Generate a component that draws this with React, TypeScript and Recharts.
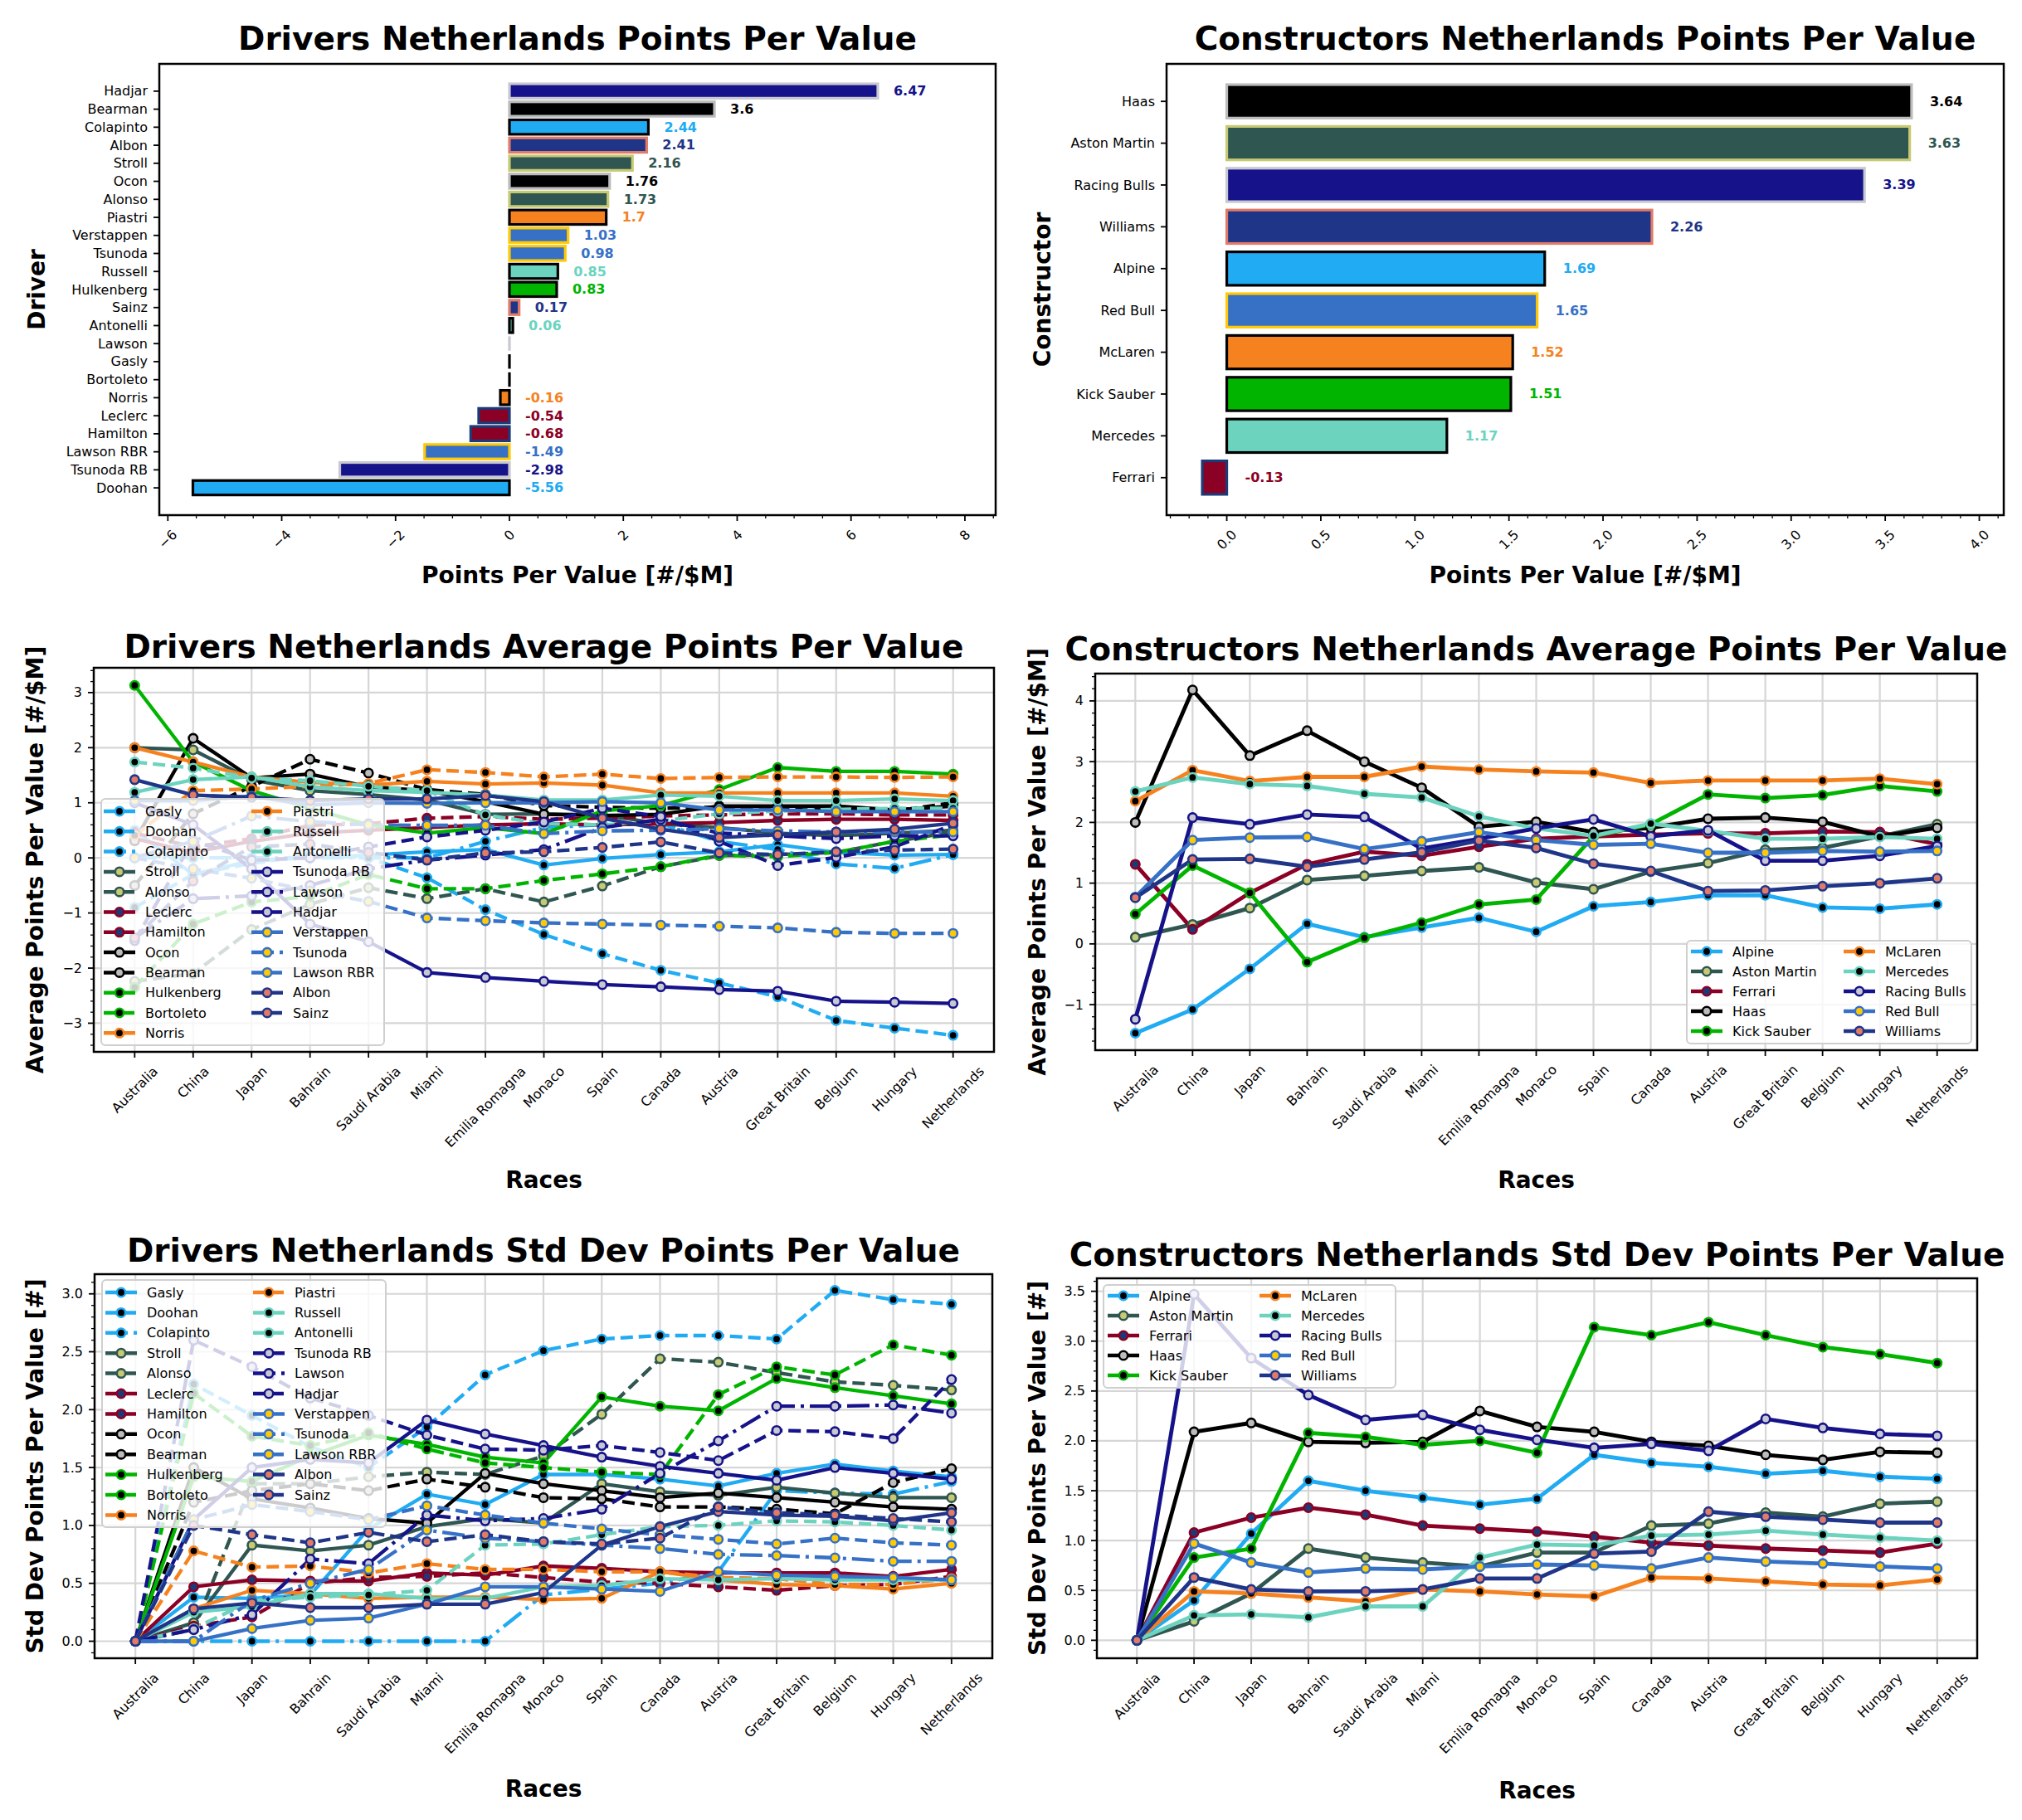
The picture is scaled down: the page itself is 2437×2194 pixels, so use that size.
import React from 'react';
import { BarChart, Bar, LineChart, Line, XAxis, YAxis, CartesianGrid } from 'recharts';

const W = 2437;
const H = 2194;
const FONT = '"DejaVu Sans", Verdana, sans-serif';
const MINUS = '\u2212';

const races = ['Australia', 'China', 'Japan', 'Bahrain', 'Saudi Arabia', 'Miami', 'Emilia Romagna', 'Monaco', 'Spain', 'Canada', 'Austria', 'Great Britain', 'Belgium', 'Hungary', 'Netherlands'];

// points per value at the Netherlands round
const driverBarNames = ['Hadjar', 'Bearman', 'Colapinto', 'Albon', 'Stroll', 'Ocon', 'Alonso', 'Piastri', 'Verstappen', 'Tsunoda', 'Russell', 'Hulkenberg', 'Sainz', 'Antonelli', 'Lawson', 'Gasly', 'Bortoleto', 'Norris', 'Leclerc', 'Hamilton', 'Lawson RBR', 'Tsunoda RB', 'Doohan'];
const driverBarTeams = ['Racing Bulls', 'Haas', 'Alpine', 'Williams', 'Aston Martin', 'Haas', 'Aston Martin', 'McLaren', 'Red Bull', 'Red Bull', 'Mercedes', 'Kick Sauber', 'Williams', 'Mercedes', 'Racing Bulls', 'Alpine', 'Kick Sauber', 'McLaren', 'Ferrari', 'Ferrari', 'Red Bull', 'Racing Bulls', 'Alpine'];
const driverBarValues = [6.47, 3.6, 2.44, 2.41, 2.16, 1.76, 1.73, 1.7, 1.03, 0.98, 0.85, 0.83, 0.17, 0.06, 0, 0, 0, -0.16, -0.54, -0.68, -1.49, -2.98, -5.56];

const constructorBarNames = ['Haas', 'Aston Martin', 'Racing Bulls', 'Williams', 'Alpine', 'Red Bull', 'McLaren', 'Kick Sauber', 'Mercedes', 'Ferrari'];
const constructorBarValues = [3.64, 3.63, 3.39, 2.26, 1.69, 1.65, 1.52, 1.51, 1.17, -0.13];

// legend order
const drivers = ['Gasly', 'Doohan', 'Colapinto', 'Stroll', 'Alonso', 'Leclerc', 'Hamilton', 'Ocon', 'Bearman', 'Hulkenberg', 'Bortoleto', 'Norris', 'Piastri', 'Russell', 'Antonelli', 'Tsunoda RB', 'Lawson', 'Hadjar', 'Verstappen', 'Tsunoda', 'Lawson RBR', 'Albon', 'Sainz'];
const driverTeams = ['Alpine', 'Alpine', 'Alpine', 'Aston Martin', 'Aston Martin', 'Ferrari', 'Ferrari', 'Haas', 'Haas', 'Kick Sauber', 'Kick Sauber', 'McLaren', 'McLaren', 'Mercedes', 'Mercedes', 'Racing Bulls', 'Racing Bulls', 'Racing Bulls', 'Red Bull', 'Red Bull', 'Red Bull', 'Williams', 'Williams'];
const driverLines = ['-', '--', '-.', '-', '--', '-', '--', '-', '--', '-', '--', '-', '--', '-', '--', '-', '-.', '--', '-', '-.', '--', '-', '--'];
const constructors = ['Alpine', 'Aston Martin', 'Ferrari', 'Haas', 'Kick Sauber', 'McLaren', 'Mercedes', 'Racing Bulls', 'Red Bull', 'Williams'];

// average points per value, drivers
const avgGasly = [0.5, -0.3, -0.05, 0.0, 0.05, 0.11, 0.15, -0.13, -0.01, 0.06, 0.11, 0.24, 0.1, 0.05, 0.06];
const avgDoohan = [-0.9, -0.3, -0.1, 0.05, 0.0, -0.36, -0.94, -1.39, -1.74, -2.04, -2.27, -2.52, -2.95, -3.09, -3.22];
const avgColapinto = [0, 0, 0, 0, 0, 0, 0.3, 0.55, 0.6, 0.62, 0.3, 0.15, -0.11, -0.19, 0.06];
const avgStroll = [2.0, 1.96, 1.42, 1.22, 1.15, 1.05, 0.79, 0.8, 0.78, 0.62, 0.55, 0.45, 0.4, 0.45, 0.5];
const avgAlonso = [-2.24, -2.1, -1.3, -0.84, -0.54, -0.74, -0.56, -0.8, -0.51, -0.16, 0.04, 0.06, 0.1, 0.3, 0.47];
const avgLeclerc = [0.35, 0.1, 0.3, 0.45, 0.5, 0.55, 0.6, 0.62, 0.6, 0.62, 0.64, 0.68, 0.7, 0.7, 0.68];
const avgHamilton = [0.45, 0.2, 0.35, 0.59, 0.62, 0.72, 0.75, 0.7, 0.72, 0.76, 0.78, 0.8, 0.8, 0.78, 0.78];
const avgOcon = [0.31, 2.17, 1.45, 1.52, 1.29, 1.22, 1.02, 0.79, 0.77, 0.79, 0.94, 0.94, 0.94, 0.87, 0.94];
const avgBearman = [-0.5, 0.8, 1.3, 1.79, 1.54, 1.24, 1.15, 0.95, 0.92, 0.9, 0.92, 0.92, 0.88, 0.85, 1.0];
const avgHulkenberg = [3.13, 1.74, 1.22, 0.9, 0.6, 0.45, 0.55, 0.44, 0.85, 0.95, 1.24, 1.64, 1.57, 1.57, 1.52];
const avgBortoleto = [-2.35, -1.2, -0.8, -0.7, -0.3, -0.56, -0.56, -0.41, -0.29, -0.16, 0.05, 0.02, 0.1, 0.3, 0.42];
const avgNorris = [2.0, 1.74, 1.47, 1.37, 1.32, 1.39, 1.34, 1.36, 1.32, 1.18, 1.18, 1.18, 1.18, 1.18, 1.12];
const avgPiastri = [0.41, 1.22, 1.25, 1.3, 1.35, 1.6, 1.55, 1.47, 1.52, 1.44, 1.46, 1.47, 1.47, 1.46, 1.47];
const avgRussell = [1.19, 1.42, 1.47, 1.29, 1.22, 1.19, 1.14, 1.05, 1.05, 1.14, 1.12, 1.04, 1.04, 1.07, 1.04];
const avgAntonelli = [1.74, 1.63, 1.45, 1.4, 1.3, 1.22, 0.78, 0.62, 0.6, 0.67, 0.8, 0.85, 0.88, 0.9, 0.9];
const avgTsunodaRB = [1.0, 0.6, -0.2, -1.2, -1.52, -2.08, -2.17, -2.24, -2.3, -2.34, -2.39, -2.42, -2.6, -2.62, -2.64];
const avgLawson = [-1.45, -0.74, -0.69, -0.5, -0.2, -0.04, 0.05, 0.15, 0.55, 0.7, 0.45, 0.4, 0.35, 0.4, 0.4];
const avgHadjar = [-1.5, 0.31, -0.04, 0.0, 0.2, 0.38, 0.5, 0.65, 0.9, 0.75, 0.3, -0.14, 0.01, 0.2, 0.6];
const avgVerstappen = [1.04, 1.04, 1.12, 0.96, 1.0, 0.99, 1.0, 1.0, 1.02, 1.0, 0.87, 0.87, 0.84, 0.84, 0.84];
const avgTsunoda = [0.01, 0.3, 0.76, 0.66, 0.6, 0.59, 0.59, 0.44, 0.49, 0.5, 0.53, 0.49, 0.47, 0.47, 0.47];
const avgLawsonRBR = [0.0, -0.2, -0.37, -0.6, -0.79, -1.09, -1.14, -1.18, -1.2, -1.22, -1.24, -1.27, -1.35, -1.37, -1.37];
const avgAlbon = [1.42, 1.14, 1.1, 1.04, 1.07, 1.07, 1.13, 1.02, 0.72, 0.52, 0.37, 0.42, 0.47, 0.52, 0.63];
const avgSainz = [-1.45, -0.42, 0.2, 0.25, 0.1, -0.04, 0.09, 0.11, 0.19, 0.29, 0.09, 0.06, 0.11, 0.14, 0.16];

// std dev of points per value, drivers
const sdGasly = [0, 0.38, 0.37, 0.4, 0.97, 1.27, 1.18, 1.44, 1.44, 1.4, 1.34, 1.45, 1.53, 1.47, 1.42];
const sdDoohan = [0, 2.22, 1.95, 1.68, 1.5, 1.85, 2.3, 2.51, 2.61, 2.64, 2.64, 2.61, 3.03, 2.95, 2.91];
const sdColapinto = [0, 0, 0, 0, 0, 0, 0, 0.4, 0.45, 0.5, 0.6, 1.3, 1.28, 1.27, 1.38];
const sdStroll = [0, 0.16, 0.83, 0.78, 0.83, 0.99, 1.06, 1.02, 1.36, 1.29, 1.26, 1.33, 1.28, 1.24, 1.24];
const sdAlonso = [0, 0.1, 1.36, 1.36, 1.42, 1.46, 1.44, 1.6, 1.96, 2.44, 2.41, 2.32, 2.24, 2.21, 2.17];
const sdLeclerc = [0, 0.47, 0.53, 0.52, 0.52, 0.59, 0.57, 0.65, 0.63, 0.6, 0.59, 0.59, 0.59, 0.56, 0.62];
const sdHamilton = [0, 0.13, 0.21, 0.5, 0.55, 0.56, 0.59, 0.55, 0.51, 0.5, 0.47, 0.44, 0.48, 0.49, 0.56];
const sdOcon = [0, 1.5, 1.23, 1.15, 1.06, 1.02, 1.45, 1.36, 1.3, 1.24, 1.28, 1.24, 1.2, 1.16, 1.14];
const sdBearman = [0, 1.2, 1.3, 1.36, 1.3, 1.4, 1.33, 1.24, 1.23, 1.16, 1.16, 1.14, 1.1, 1.37, 1.49];
const sdHulkenberg = [0, 1.42, 1.38, 1.6, 1.78, 1.7, 1.59, 1.54, 2.11, 2.03, 1.99, 2.27, 2.19, 2.12, 2.05];
const sdBortoleto = [0, 2.14, 1.77, 1.69, 1.8, 1.66, 1.54, 1.5, 1.46, 1.44, 2.13, 2.37, 2.3, 2.56, 2.47];
const sdNorris = [0, 0.28, 0.44, 0.41, 0.37, 0.38, 0.38, 0.36, 0.37, 0.6, 0.53, 0.49, 0.48, 0.45, 0.5];
const sdPiastri = [0, 0.78, 0.64, 0.65, 0.59, 0.67, 0.62, 0.62, 0.6, 0.6, 0.55, 0.54, 0.49, 0.49, 0.54];
const sdRussell = [0, 0.25, 0.3, 0.41, 0.41, 0.37, 0.37, 0.47, 0.48, 0.54, 0.53, 0.54, 0.53, 0.53, 0.53];
const sdAntonelli = [0, 0.11, 0.35, 0.38, 0.4, 0.44, 0.83, 0.84, 0.92, 0.99, 1.0, 1.04, 1.03, 1.0, 0.96];
const sdTsunodaRB = [0, 1.05, 1.5, 1.57, 1.54, 1.91, 1.79, 1.69, 1.59, 1.51, 1.45, 1.39, 1.5, 1.45, 1.4];
const sdLawson = [0, 0.1, 0.23, 0.71, 0.67, 1.09, 1.04, 1.06, 1.14, 1.45, 1.73, 2.03, 2.03, 2.04, 1.97];
const sdHadjar = [0, 2.6, 2.37, 2.1, 1.95, 1.78, 1.66, 1.65, 1.69, 1.63, 1.56, 1.82, 1.81, 1.75, 2.26];
const sdVerstappen = [0, 0.0, 0.11, 0.18, 0.2, 0.32, 0.47, 0.47, 0.45, 0.43, 0.6, 0.57, 0.56, 0.55, 0.53];
const sdTsunoda = [0, 0.0, 0.35, 0.5, 0.62, 0.96, 0.89, 0.86, 0.83, 0.8, 0.75, 0.74, 0.72, 0.69, 0.69];
const sdLawsonRBR = [0, 1.05, 1.18, 1.12, 1.05, 1.17, 1.09, 1.02, 0.97, 0.92, 0.88, 0.84, 0.89, 0.85, 0.83];
const sdAlbon = [0, 0.28, 0.33, 0.29, 0.29, 0.32, 0.32, 0.42, 0.83, 0.99, 1.12, 1.09, 1.08, 1.04, 1.11];
const sdSainz = [0, 1.0, 0.92, 0.85, 0.94, 0.86, 0.92, 0.86, 0.84, 0.89, 1.16, 1.11, 1.09, 1.06, 1.03];

// average points per value, constructors
const cAvgAlpine = [-1.47, -1.08, -0.41, 0.33, 0.11, 0.27, 0.43, 0.2, 0.62, 0.69, 0.8, 0.8, 0.6, 0.58, 0.65];
const cAvgAston = [0.11, 0.32, 0.59, 1.05, 1.12, 1.2, 1.26, 1.01, 0.9, 1.19, 1.33, 1.55, 1.58, 1.77, 1.97];
const cAvgFerrari = [1.31, 0.24, 0.84, 1.31, 1.52, 1.45, 1.6, 1.73, 1.77, 1.8, 1.82, 1.82, 1.85, 1.84, 1.64];
const cAvgHaas = [2.0, 4.18, 3.1, 3.51, 3.0, 2.57, 1.93, 2.01, 1.84, 1.91, 2.06, 2.08, 2.01, 1.77, 1.91];
const cAvgSauber = [0.49, 1.29, 0.84, -0.3, 0.1, 0.35, 0.65, 0.73, 1.77, 1.97, 2.46, 2.4, 2.45, 2.6, 2.51];
const cAvgMcLaren = [2.35, 2.86, 2.68, 2.75, 2.75, 2.92, 2.87, 2.84, 2.82, 2.65, 2.69, 2.69, 2.69, 2.72, 2.63];
const cAvgMercedes = [2.51, 2.74, 2.63, 2.6, 2.47, 2.41, 2.1, 1.9, 1.78, 1.98, 1.86, 1.73, 1.73, 1.76, 1.73];
const cAvgRacingBulls = [-1.24, 2.08, 1.97, 2.13, 2.09, 1.57, 1.73, 1.9, 2.05, 1.77, 1.87, 1.37, 1.37, 1.45, 1.61];
const cAvgRedBull = [0.77, 1.71, 1.75, 1.76, 1.56, 1.69, 1.84, 1.71, 1.63, 1.65, 1.5, 1.5, 1.53, 1.52, 1.53];
const cAvgWilliams = [0.76, 1.39, 1.4, 1.27, 1.39, 1.51, 1.7, 1.58, 1.32, 1.2, 0.87, 0.88, 0.95, 1.0, 1.08];

// std dev of points per value, constructors
const cSdAlpine = [0, 0.4, 1.07, 1.6, 1.5, 1.43, 1.36, 1.42, 1.86, 1.78, 1.74, 1.67, 1.7, 1.64, 1.62];
const cSdAston = [0, 0.19, 0.47, 0.92, 0.83, 0.78, 0.74, 0.88, 0.88, 1.15, 1.17, 1.28, 1.24, 1.37, 1.39];
const cSdFerrari = [0, 1.08, 1.23, 1.33, 1.26, 1.15, 1.12, 1.09, 1.04, 0.98, 0.95, 0.92, 0.9, 0.88, 0.97];
const cSdHaas = [0, 2.09, 2.18, 1.99, 1.98, 1.99, 2.3, 2.14, 2.09, 1.99, 1.95, 1.86, 1.81, 1.89, 1.88];
const cSdSauber = [0, 0.83, 0.92, 2.08, 2.04, 1.96, 2.0, 1.88, 3.14, 3.06, 3.19, 3.06, 2.94, 2.87, 2.78];
const cSdMcLaren = [0, 0.49, 0.47, 0.43, 0.39, 0.51, 0.49, 0.46, 0.44, 0.63, 0.62, 0.59, 0.56, 0.55, 0.61];
const cSdMercedes = [0, 0.25, 0.26, 0.23, 0.34, 0.34, 0.83, 0.96, 0.95, 1.05, 1.06, 1.1, 1.06, 1.03, 1.0];
const cSdRacingBulls = [0, 3.47, 2.83, 2.46, 2.21, 2.26, 2.11, 2.01, 1.93, 1.97, 1.9, 2.22, 2.13, 2.07, 2.05];
const cSdRedBull = [0, 0.97, 0.78, 0.68, 0.72, 0.71, 0.74, 0.76, 0.75, 0.72, 0.83, 0.79, 0.77, 0.74, 0.72];
const cSdWilliams = [0, 0.63, 0.51, 0.49, 0.49, 0.51, 0.62, 0.62, 0.87, 0.89, 1.29, 1.24, 1.21, 1.18, 1.18];

const driverAvg = [avgGasly, avgDoohan, avgColapinto, avgStroll, avgAlonso, avgLeclerc, avgHamilton, avgOcon, avgBearman, avgHulkenberg, avgBortoleto, avgNorris, avgPiastri, avgRussell, avgAntonelli, avgTsunodaRB, avgLawson, avgHadjar, avgVerstappen, avgTsunoda, avgLawsonRBR, avgAlbon, avgSainz];
const driverSd = [sdGasly, sdDoohan, sdColapinto, sdStroll, sdAlonso, sdLeclerc, sdHamilton, sdOcon, sdBearman, sdHulkenberg, sdBortoleto, sdNorris, sdPiastri, sdRussell, sdAntonelli, sdTsunodaRB, sdLawson, sdHadjar, sdVerstappen, sdTsunoda, sdLawsonRBR, sdAlbon, sdSainz];
const constructorAvg = [cAvgAlpine, cAvgAston, cAvgFerrari, cAvgHaas, cAvgSauber, cAvgMcLaren, cAvgMercedes, cAvgRacingBulls, cAvgRedBull, cAvgWilliams];
const constructorSd = [cSdAlpine, cSdAston, cSdFerrari, cSdHaas, cSdSauber, cSdMcLaren, cSdMercedes, cSdRacingBulls, cSdRedBull, cSdWilliams];

const teamStyle: Record<string, { color: string; accent: string }> = {
  'Alpine': { color: '#20abf2', accent: '#000000' },
  'Aston Martin': { color: '#2f5651', accent: '#c7c973' },
  'Ferrari': { color: '#8b0025', accent: '#1d3a78' },
  'Haas': { color: '#000000', accent: '#bcbcbc' },
  'Kick Sauber': { color: '#00b400', accent: '#000000' },
  'McLaren': { color: '#f5821f', accent: '#000000' },
  'Mercedes': { color: '#6cd3bf', accent: '#000000' },
  'Racing Bulls': { color: '#16138a', accent: '#c8c8d2' },
  'Red Bull': { color: '#3671c6', accent: '#ffc906' },
  'Williams': { color: '#1f3588', accent: '#e07b68' },
};
const dashOf: Record<string, string | undefined> = { '-': undefined, '--': '15 7', '-.': '27 7 4 7' };

type Box = { l: number; t: number; r: number; b: number };
type Series = { name: string; values: number[]; color: string; accent: string; dash?: string };

const TICK = 7;
const MINOR = 4;
const PAD = 7;
const FS = 16;

let ctx: CanvasRenderingContext2D | null = null;
function textWidth(s: string, size: number) {
  if (!ctx) ctx = document.createElement('canvas').getContext('2d');
  if (!ctx) return s.length * size * 0.6;
  ctx.font = `${size}px "DejaVu Sans"`;
  return ctx.measureText(s).width;
}

function steps(a: number, b: number, s: number) {
  const out: number[] = [];
  for (let v = a; v <= b + 1e-9; v += s) out.push(Math.round(v * 1000) / 1000);
  return out;
}

function fmtNum(v: number, dec: number) {
  const s = Math.abs(v).toFixed(dec);
  return v < -1e-9 ? MINUS + s : s;
}

const isMajor = (v: number, majors: number[]) => majors.some((m) => Math.abs(m - v) < 1e-6);

function RotatedLabel({ x, top, text }: { x: number; top: number; text: string }) {
  const L = textWidth(text, FS);
  const cy = top + ((L + FS * 1.16) * Math.SQRT1_2) / 2;
  return (
    <text x={x} y={cy} transform={`rotate(-45 ${x} ${cy})`} textAnchor="middle" dominantBaseline="central" fontSize={FS} fontFamily={FONT} fill="#000">
      {text}
    </text>
  );
}

type BarPanelProps = { names: string[]; teams: string[]; values: number[]; box: Box; inset: number; domain: [number, number]; majors: number[]; minors: number[]; dec: number; gap: number };

function BarPanel({ names, teams, values, box, inset, domain, majors, minors, dec, gap }: BarPanelProps) {
  const data = names.map((name, i) => ({ name, value: values[i] }));
  const top = box.t + inset;
  const bottom = box.b - inset;
  const band = (bottom - top) / names.length;
  const YW = 20;
  const XH = 20;
  return (
    <div style={{ position: 'absolute', left: 0, top: 0 }}>
      <BarChart width={W} height={H} data={data} layout="vertical" margin={{ top, bottom: H - bottom - XH, left: box.l - YW, right: W - box.r }}>
        <XAxis
          type="number"
          domain={domain}
          allowDataOverflow
          ticks={minors}
          interval={0}
          height={XH}
          axisLine={false}
          tickLine={false}
          tickSize={0}
          tickMargin={0}
          tick={(p: any) => {
            const v = p.payload.value;
            const major = isMajor(v, majors);
            const y0 = p.y + inset;
            return (
              <g>
                <line x1={p.x} x2={p.x} y1={y0} y2={y0 + (major ? TICK : MINOR)} stroke="#000" strokeWidth={major ? 1.8 : 1.3} />
                {major && <RotatedLabel x={p.x} top={y0 + TICK + PAD} text={fmtNum(v, dec)} />}
              </g>
            );
          }}
        />
        <YAxis
          type="category"
          dataKey="name"
          width={YW}
          interval={0}
          axisLine={false}
          tickLine={false}
          tickSize={0}
          tickMargin={0}
          tick={(p: any) => (
            <g>
              <line x1={p.x} x2={p.x - TICK} y1={p.y} y2={p.y} stroke="#000" strokeWidth={1.8} />
              <text x={p.x - TICK - PAD} y={p.y} textAnchor="end" dominantBaseline="central" fontSize={FS} fontFamily={FONT} fill="#000">
                {p.payload.value}
              </text>
            </g>
          )}
        />
        <Bar
          dataKey="value"
          barSize={band * 0.8}
          isAnimationActive={false}
          shape={(p: any) => {
            const nm = p.payload?.name ?? p.name;
            const i = names.indexOf(nm);
            const st = teamStyle[teams[i]];
            const x0 = Math.min(p.x, p.x + p.width);
            const w = Math.abs(p.width);
            const right = Math.max(p.x, p.x + p.width);
            const v = values[i];
            return (
              <g>
                {w > 0.5 ? (
                  <rect x={x0} y={p.y} width={w} height={p.height} fill={st.color} stroke={st.accent} strokeWidth={3.2} />
                ) : (
                  <line x1={x0} x2={x0} y1={p.y} y2={p.y + p.height} stroke={st.accent} strokeWidth={3.2} />
                )}
                {v !== 0 && (
                  <text x={right + gap} y={p.y + p.height / 2} dominantBaseline="central" fontSize={FS} fontWeight="bold" fontFamily={FONT} fill={st.color}>
                    {String(v)}
                  </text>
                )}
              </g>
            );
          }}
        />
      </BarChart>
    </div>
  );
}

type LinePanelProps = { series: Series[]; box: Box; domain: [number, number]; majors: number[]; minors: number[]; dec: number; lw: number };

function LinePanel({ series, box, domain, majors, minors, dec, lw }: LinePanelProps) {
  const data = races.map((race, i) => {
    const row: Record<string, number | string> = { i, race };
    series.forEach((s, k) => {
      row['s' + k] = s.values[i];
    });
    return row;
  });
  const YW = 20;
  const XH = 20;
  const toY = (v: number) => box.t + ((domain[1] - v) / (domain[1] - domain[0])) * (box.b - box.t);
  const toX = (i: number) => box.l + ((i + 0.7) / 15.4) * (box.r - box.l);
  return (
    <div style={{ position: 'absolute', left: 0, top: 0 }}>
      <LineChart width={W} height={H} data={data} margin={{ top: box.t, bottom: H - box.b - XH, left: box.l - YW, right: W - box.r }}>
        <CartesianGrid stroke="#d6d6d6" strokeWidth={2.2} horizontalPoints={majors.map(toY)} verticalPoints={races.map((_, i) => toX(i))} />
        <XAxis
          type="number"
          dataKey="i"
          domain={[-0.7, 14.7]}
          allowDataOverflow
          ticks={races.map((_, i) => i)}
          interval={0}
          height={XH}
          axisLine={false}
          tickLine={false}
          tickSize={0}
          tickMargin={0}
          tick={(p: any) => (
            <g>
              <line x1={p.x} x2={p.x} y1={p.y} y2={p.y + TICK} stroke="#000" strokeWidth={1.8} />
              <RotatedLabel x={p.x} top={p.y + TICK + PAD} text={races[p.payload.value]} />
            </g>
          )}
        />
        <YAxis
          type="number"
          domain={domain}
          allowDataOverflow
          ticks={minors}
          interval={0}
          width={YW}
          axisLine={false}
          tickLine={false}
          tickSize={0}
          tickMargin={0}
          tick={(p: any) => {
            const v = p.payload.value;
            const major = isMajor(v, majors);
            return (
              <g>
                <line x1={p.x} x2={p.x - (major ? TICK : MINOR)} y1={p.y} y2={p.y} stroke="#000" strokeWidth={major ? 1.8 : 1.3} />
                {major && (
                  <text x={p.x - TICK - PAD} y={p.y} textAnchor="end" dominantBaseline="central" fontSize={FS} fontFamily={FONT} fill="#000">
                    {fmtNum(v, dec)}
                  </text>
                )}
              </g>
            );
          }}
        />
        {series.map((s, k) => (
          <Line
            key={s.name}
            type="linear"
            dataKey={'s' + k}
            stroke={s.color}
            strokeWidth={lw}
            strokeDasharray={s.dash}
            isAnimationActive={false}
            activeDot={false}
            dot={(p: any) => <circle key={`${s.name}-${p.index}`} cx={p.cx} cy={p.cy} r={5.2} fill={s.accent} stroke={s.color} strokeWidth={2.6} />}
          />
        ))}
      </LineChart>
    </div>
  );
}

type LegendProps = { x: number; y: number; w: number; h: number; series: Series[]; rows: number; colX: number[]; rowY0: number; rowH: number };

function LegendBox({ x, y, w, h, series, rows, colX, rowY0, rowH }: LegendProps) {
  return (
    <g>
      <rect x={x} y={y} width={w} height={h} rx={5} fill="rgba(255,255,255,0.8)" stroke="#cfcfcf" strokeWidth={2} />
      {series.map((s, k) => {
        const col = Math.floor(k / rows);
        const row = k % rows;
        const hx = x + colX[col];
        const cy = rowY0 + row * rowH;
        return (
          <g key={s.name}>
            <line x1={hx} x2={hx + 38} y1={cy} y2={cy} stroke={s.color} strokeWidth={4.5} strokeDasharray={s.dash} />
            <circle cx={hx + 19} cy={cy} r={5.2} fill={s.accent} stroke={s.color} strokeWidth={2.6} />
            <text x={hx + 50} y={cy} dominantBaseline="central" fontSize={FS} fontFamily={FONT} fill="#000">
              {s.name}
            </text>
          </g>
        );
      })}
    </g>
  );
}

const boxTL: Box = { l: 192, t: 77, r: 1200, b: 621 };
const boxTR: Box = { l: 1406, t: 77, r: 2415, b: 621 };
const boxML: Box = { l: 113, t: 805, r: 1198, b: 1268 };
const boxMR: Box = { l: 1320, t: 812, r: 2383, b: 1266 };
const boxBL: Box = { l: 114, t: 1536, r: 1196, b: 1999 };
const boxBR: Box = { l: 1322, t: 1541, r: 2383, b: 1999 };

function driverSeries(vals: number[][]): Series[] {
  return drivers.map((name, k) => ({ name, values: vals[k], color: teamStyle[driverTeams[k]].color, accent: teamStyle[driverTeams[k]].accent, dash: dashOf[driverLines[k]] }));
}
function constructorSeries(vals: number[][]): Series[] {
  return constructors.map((name, k) => ({ name, values: vals[k], color: teamStyle[name].color, accent: teamStyle[name].accent }));
}

function Title({ x, y, text }: { x: number; y: number; text: string }) {
  return (
    <text x={x} y={y} textAnchor="middle" dominantBaseline="central" fontSize={39} fontWeight="bold" fontFamily={FONT} fill="#000">
      {text}
    </text>
  );
}
function AxisLabel({ x, y, text, vertical }: { x: number; y: number; text: string; vertical?: boolean }) {
  return (
    <text x={x} y={y} transform={vertical ? `rotate(-90 ${x} ${y})` : undefined} textAnchor="middle" dominantBaseline="central" fontSize={28} fontWeight="bold" fontFamily={FONT} fill="#000">
      {text}
    </text>
  );
}

const cx = (b: Box) => (b.l + b.r) / 2;
const cy = (b: Box) => (b.t + b.b) / 2;

export default function App() {
  const dAvg = driverSeries(driverAvg);
  const dSd = driverSeries(driverSd);
  const cAvg = constructorSeries(constructorAvg);
  const cSd = constructorSeries(constructorSd);
  const boxes = [boxTL, boxTR, boxML, boxMR, boxBL, boxBR];
  return (
    <div style={{ position: 'absolute', left: 0, top: 0, width: W, height: H, background: '#fff', fontFamily: FONT }}>
      <BarPanel names={driverBarNames} teams={driverBarTeams} values={driverBarValues} box={boxTL} inset={22} domain={[-6.15, 8.54]} majors={steps(-6, 8, 2)} minors={steps(-6, 8.5, 0.5)} dec={0} gap={19} />
      <BarPanel names={constructorBarNames} teams={constructorBarNames} values={constructorBarValues} box={boxTR} inset={20} domain={[-0.32, 4.13]} majors={steps(0, 4, 0.5)} minors={steps(-0.3, 4.1, 0.1)} dec={1} gap={22} />
      <LinePanel series={dAvg} box={boxML} domain={[-3.52, 3.45]} majors={steps(-3, 3, 1)} minors={steps(-3.4, 3.4, 0.2)} dec={0} lw={4.3} />
      <LinePanel series={cAvg} box={boxMR} domain={[-1.75, 4.45]} majors={steps(-1, 4, 1)} minors={steps(-1.6, 4.4, 0.2)} dec={0} lw={4.8} />
      <LinePanel series={dSd} box={boxBL} domain={[-0.147, 3.17]} majors={steps(0, 3, 0.5)} minors={steps(-0.1, 3.1, 0.1)} dec={1} lw={4.3} />
      <LinePanel series={cSd} box={boxBR} domain={[-0.18, 3.63]} majors={steps(0, 3.5, 0.5)} minors={steps(-0.1, 3.6, 0.1)} dec={1} lw={4.8} />
      <svg width={W} height={H} style={{ position: 'absolute', left: 0, top: 0 }}>
        {boxes.map((b, i) => (
          <rect key={i} x={b.l} y={b.t} width={b.r - b.l} height={b.b - b.t} fill="none" stroke="#000" strokeWidth={2.5} />
        ))}
        <Title x={cx(boxTL)} y={46} text="Drivers Netherlands Points Per Value" />
        <Title x={cx(boxTR)} y={46} text="Constructors Netherlands Points Per Value" />
        <Title x={cx(boxML)} y={779} text="Drivers Netherlands Average Points Per Value" />
        <Title x={cx(boxMR)} y={782} text="Constructors Netherlands Average Points Per Value" />
        <Title x={cx(boxBL)} y={1507} text="Drivers Netherlands Std Dev Points Per Value" />
        <Title x={cx(boxBR)} y={1512} text="Constructors Netherlands Std Dev Points Per Value" />

        <AxisLabel x={cx(boxTL)} y={693} text="Points Per Value [#/$M]" />
        <AxisLabel x={cx(boxTR)} y={693} text="Points Per Value [#/$M]" />
        <AxisLabel x={cx(boxML)} y={1422} text="Races" />
        <AxisLabel x={cx(boxMR)} y={1422} text="Races" />
        <AxisLabel x={cx(boxBL)} y={2156} text="Races" />
        <AxisLabel x={cx(boxBR)} y={2158} text="Races" />

        <AxisLabel x={44} y={cy(boxTL)} text="Driver" vertical />
        <AxisLabel x={1256} y={cy(boxTR)} text="Constructor" vertical />
        <AxisLabel x={42} y={cy(boxML)} text="Average Points Per Value [#/$M]" vertical />
        <AxisLabel x={1250} y={cy(boxMR)} text="Average Points Per Value [#/$M]" vertical />
        <AxisLabel x={42} y={cy(boxBL)} text="Std Dev Points Per Value [#]" vertical />
        <AxisLabel x={1250} y={cy(boxBR)} text="Std Dev Points Per Value [#]" vertical />

        <LegendBox x={122} y={963} w={341} h={297} series={dAvg} rows={12} colX={[3, 181]} rowY0={978} rowH={24.3} />
        <LegendBox x={123} y={1543} w={342} h={298} series={dSd} rows={12} colX={[4, 182]} rowY0={1558} rowH={24.4} />
        <LegendBox x={2033} y={1134} w={343} h={124} series={cAvg} rows={5} colX={[5, 189]} rowY0={1147} rowH={24} />
        <LegendBox x={1330} y={1549} w={352} h={124} series={cSd} rows={5} colX={[5, 188]} rowY0={1562} rowH={24} />
      </svg>
    </div>
  );
}
